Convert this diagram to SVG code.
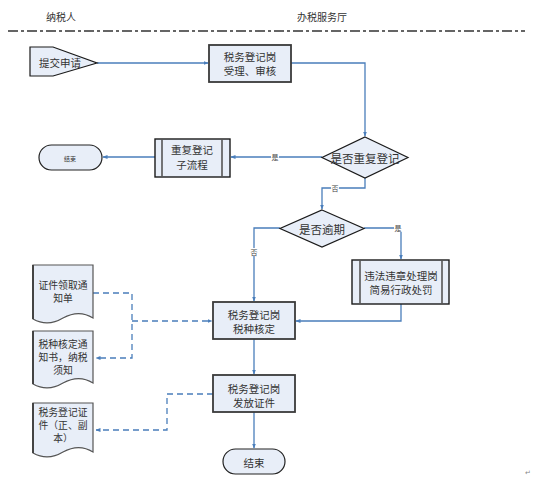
<svg xmlns="http://www.w3.org/2000/svg" width="533" height="491" viewBox="0 0 533 491">
<defs>
<marker id="ah" viewBox="0 0 10 10" refX="9" refY="5" markerWidth="5" markerHeight="5" orient="auto" markerUnits="userSpaceOnUse">
<path d="M0,1 L10,5 L0,9 Z" fill="#4A7EBB"/>
</marker>
<style>
text{font-family:"Noto Sans CJK SC","Liberation Sans",sans-serif;fill:#333;text-anchor:middle;dominant-baseline:central}
.t{font-size:10.5px}
.dt{font-size:9.8px}
.d{font-size:11.5px}
.s{font-size:11px}
.h{font-size:10px}
.lb{font-size:7px;fill:#444}
.box{fill:#E8EEF8;stroke:#3a3a3a;stroke-width:1.8}
.sub{fill:#E8EEF8;stroke:#1a1a1a;stroke-width:1.4}
.bar{stroke:#555;stroke-width:1.6;fill:none}
.dia{fill:#E8EEF8;stroke:#1a1a1a;stroke-width:1.2}
.term{fill:#E8EEF8;stroke:#222;stroke-width:1.2}
.doc{fill:#E8EEF8;stroke:#555;stroke-width:1.2}
.docl{stroke:#444;stroke-width:2;fill:none}
.c{fill:none;stroke:#4A7EBB;stroke-width:1.3}
.dash{fill:none;stroke:#4A7EBB;stroke-width:1.3;stroke-dasharray:6,4}
.lbg{fill:#fff}
</style>
</defs>

<g id="header">
<text class="h" x="61" y="16">纳税人</text>
<text class="h" x="322" y="16">办税服务厅</text>
<line x1="8" y1="31" x2="525" y2="31" stroke="#333" stroke-width="1.5" stroke-dasharray="10,3,3,3"/>
</g>

<g id="connectors">
<path class="c" d="M97,63 H208" marker-end="url(#ah)"/>
<path class="c" d="M291,63 H365 V136" marker-end="url(#ah)"/>
<path class="c" d="M322,157 H231" marker-end="url(#ah)"/>
<path class="c" d="M155,157 H103" marker-end="url(#ah)"/>
<path class="c" d="M365,178 V188 H322 V209" marker-end="url(#ah)" stroke="#7097CF" stroke-width="1.6"/>
<path class="c" d="M280,228 H254 V301" marker-end="url(#ah)"/>
<path class="c" d="M364,228 H401 V259" marker-end="url(#ah)"/>
<path class="c" d="M401,304 V321 H296" marker-end="url(#ah)"/>
<path class="c" d="M254,339 V374" marker-end="url(#ah)"/>
<path class="c" d="M254,412 V448" marker-end="url(#ah)"/>
<path class="dash" d="M93,293 H132 V358 H96" marker-end="url(#ah)"/>
<path class="dash" d="M132,321 H212" marker-end="url(#ah)"/>
<path class="dash" d="M213,394 H167 V430 H96" marker-end="url(#ah)"/>
<rect class="lbg" x="271" y="153" width="8" height="8"/>
<text class="lb" x="275" y="157">是</text>
<rect class="lbg" x="331" y="184" width="8" height="8"/>
<text class="lb" x="335" y="188">否</text>
<rect class="lbg" x="250" y="248" width="8" height="8"/>
<text class="lb" x="254" y="252">否</text>
<rect class="lbg" x="394" y="224" width="8" height="8"/>
<text class="lb" x="398" y="228">是</text>
</g>

<g id="submit">
<path class="dia" d="M30,47 H53 L97,63 L53,76 H30 Z" stroke-width="1.3"/>
<text class="t" x="60" y="62">提交申请</text>
</g>

<g id="accept">
<rect class="box" x="209" y="45" width="82" height="37"/>
<text class="t" x="250" y="56">税务登记岗</text>
<text class="t" x="250" y="70">受理、审核</text>
</g>

<g id="isDuplicate">
<path class="dia" d="M365,137 L408,157.5 L365,178 L322,157.5 Z"/>
<text class="d" x="365" y="157.5">是否重复登记</text>
</g>

<g id="duplicateSub">
<rect class="sub" x="155" y="139" width="75" height="38"/>
<line class="bar" x1="162" y1="139" x2="162" y2="177"/>
<line class="bar" x1="222" y1="139" x2="222" y2="177"/>
<text class="t" x="192" y="149.5">重复登记</text>
<text class="t" x="192" y="164.5">子流程</text>
</g>

<g id="end1">
<rect class="term" x="39" y="145" width="63" height="25" rx="12.5"/>
<text x="70" y="158" style="font-size:6px">结束</text>
</g>

<g id="isOverdue">
<path class="dia" d="M322,210 L364,228.5 L322,247 L280,228.5 Z"/>
<text class="d" x="322" y="228.5">是否逾期</text>
</g>

<g id="penalty">
<rect class="sub" x="352" y="260" width="97" height="44"/>
<line class="bar" x1="360" y1="260" x2="360" y2="304"/>
<line class="bar" x1="442" y1="260" x2="442" y2="304"/>
<text class="t" x="401" y="275">违法违章处理岗</text>
<text class="t" x="401" y="289">简易行政处罚</text>
</g>

<g id="verify">
<rect class="box" x="213" y="302" width="82" height="37"/>
<text class="t" x="254" y="314">税务登记岗</text>
<text class="t" x="254" y="328">税种核定</text>
</g>

<g id="issue">
<rect class="box" x="213" y="375" width="82" height="37"/>
<text class="t" x="254" y="388">税务登记岗</text>
<text class="t" x="254" y="402">发放证件</text>
</g>

<g id="end2">
<rect class="term" x="223" y="449" width="62" height="25" rx="12.5"/>
<text class="t" x="254" y="462">结束</text>
</g>

<g id="doc1">
<path class="doc" d="M33,265 H93 V318 C82,311 72,313 63,318 C53,324 42,324 33,319 Z"/>
<line class="docl" x1="33" y1="265" x2="33" y2="319"/>
<text class="dt" x="63" y="285">证件领取通</text>
<text class="dt" x="63" y="298">知单</text>
</g>

<g id="doc2">
<path class="doc" d="M33,331 H93 V383 C82,376 72,378 63,383 C53,389 42,389 33,384 Z"/>
<line class="docl" x1="33" y1="331" x2="33" y2="384"/>
<text class="dt" x="63" y="344">税种核定通</text>
<text class="dt" x="63" y="357">知书，纳税</text>
<text class="dt" x="63" y="370">须知</text>
</g>

<g id="doc3">
<path class="doc" d="M33,403 H93 V452 C82,445 72,447 63,452 C53,458 42,458 33,453 Z"/>
<line class="docl" x1="33" y1="403" x2="33" y2="453"/>
<text class="dt" x="63" y="412">税务登记证</text>
<text class="dt" x="63" y="425">件（正、副</text>
<text class="dt" x="63" y="438">本）</text>
</g>

<text x="528" y="472" style="font-size:7px;fill:#888">↵</text>
</svg>
